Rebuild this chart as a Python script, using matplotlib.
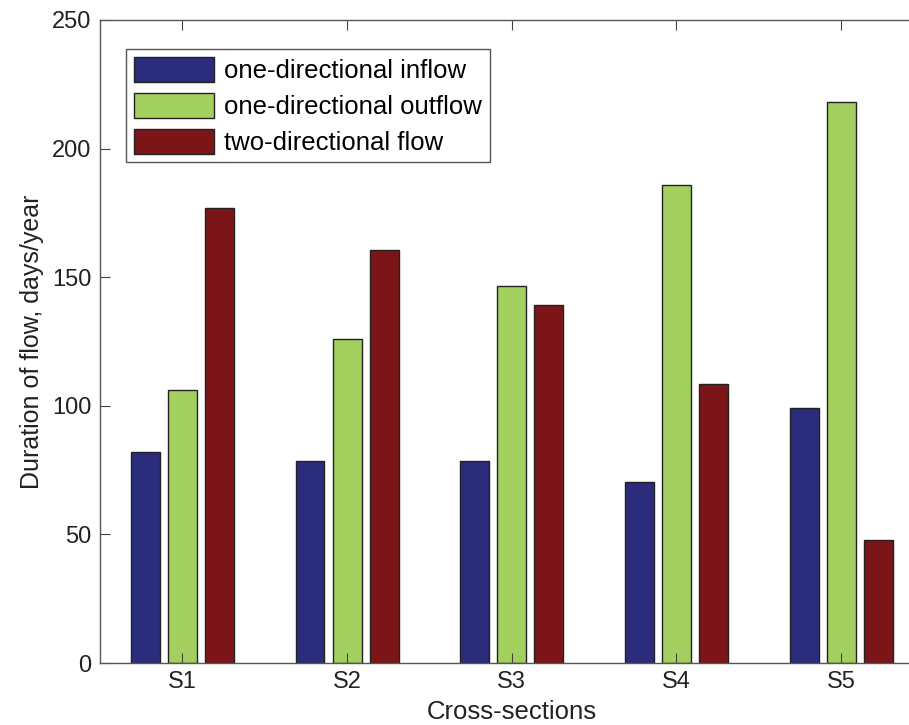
import numpy as np
import matplotlib
matplotlib.use('Agg')
import matplotlib.pyplot as plt

plt.rcParams['font.family'] = ['Liberation Sans', 'DejaVu Sans']

sections = ['S1', 'S2', 'S3', 'S4', 'S5']
inflow = [82, 78.5, 78.5, 70.5, 99]
outflow = [106, 126, 146.5, 186, 218]
two_dir = [177, 160.5, 139, 108.5, 48]

series = ['one-directional inflow', 'one-directional outflow', 'two-directional flow']
colors = ['#2b2d7c', '#a2cf5e', '#7b1518']

fig = plt.figure(figsize=(9.09, 7.25), dpi=100)
# axes run past the right edge of the picture, like the cropped original
ax = fig.add_axes([0.110, 0.0855, 0.906, 0.887])

x = np.arange(1, len(sections) + 1)
width = 0.176
offset = 0.225
for i, (vals, lab, col) in enumerate(zip([inflow, outflow, two_dir], series, colors)):
    ax.bar(x + (i - 1) * offset, vals, width, color=col, edgecolor='#222222',
           linewidth=1.0, label=lab)

ax.set_xlim(0.5, 5.5)
ax.set_ylim(0, 250)
ax.set_xticks(x)
ax.set_xticklabels(sections)
ax.set_yticks([0, 50, 100, 150, 200, 250])
ax.tick_params(direction='in', length=7, labelsize=17, top=True, right=True,
               color='#444444', labelcolor='#222222', pad=6)
for s in ax.spines.values():
    s.set_color('#555555')
    s.set_linewidth(1.0)

ax.set_xlabel('Cross-sections', fontsize=18.5, color='#222222', labelpad=5)
ax.set_ylabel('Duration of flow, days/year', fontsize=18, color='#222222', labelpad=6)

leg = ax.legend(loc='upper left', bbox_to_anchor=(0.032, 0.955), borderaxespad=0,
                fontsize=18.5, fancybox=False, framealpha=1, edgecolor='#555555',
                handlelength=3.1, handleheight=1.12, handletextpad=0.4,
                labelspacing=0.38, borderpad=0.3)
leg.get_frame().set_linewidth(1.0)

fig.savefig('out.png', dpi=100)
